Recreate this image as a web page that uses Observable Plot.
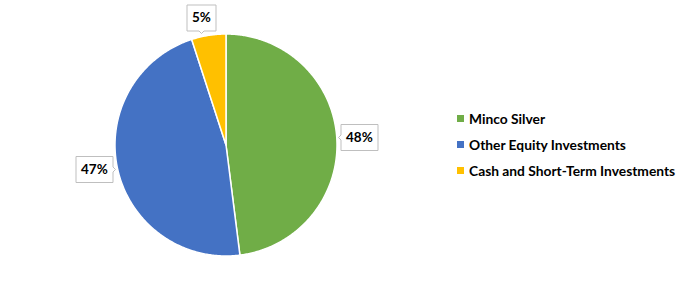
<!DOCTYPE html>
<html><head><meta charset="utf-8">
<script src="https://cdn.jsdelivr.net/npm/d3@7"></script>
<script src="https://cdn.jsdelivr.net/npm/@observablehq/plot@0.6"></script>
<style>
body{margin:0;background:#fff;font-family:Lato,sans-serif}
#wrap{position:relative;width:689px;height:289px;overflow:hidden}
#legend{position:absolute;left:457px;top:105px;font-family:Lato,sans-serif;font-weight:700;font-size:13.8px;color:#000}
#legend .row{display:flex;align-items:center;height:26px;white-space:nowrap}
#legend .sw{width:7px;height:7px;margin-right:5px}
g[aria-label="tip"], g[aria-label="tip"] path{filter:none !important}
</style></head><body><div id="wrap"></div>
<script>
const categories = ["Minco Silver", "Other Equity Investments", "Cash and Short-Term Investments"];
const values = [48, 47, 5];
const labels = ["48%", "47%", "5%"];
const colors = ["#70AD47", "#4472C4", "#FFC000"];
const anchors = ["left", "right", "bottom"];

const data = categories.map((c, i) => ({name: c, value: values[i], label: labels[i], anchor: anchors[i]}));
const arcs = d3.pie().sort(null).value(d => d.value)(data);
const pts = [];
arcs.forEach(a => {
  pts.push({name: a.data.name, x: 0, y: 0});
  const n = Math.max(2, Math.ceil((a.endAngle - a.startAngle) / 0.01));
  for (let k = 0; k <= n; k++) {
    const t = a.startAngle + (a.endAngle - a.startAngle) * k / n;
    pts.push({name: a.data.name, x: Math.sin(t), y: Math.cos(t)});
  }
});
const tips = arcs.map(a => {
  const m = (a.startAngle + a.endAngle) / 2;
  return {...a.data, x: 1.02 * Math.sin(m), y: 1.02 * Math.cos(m)};
});

const chart = Plot.plot({
  width: 689, height: 289, margin: 0,
  x: {domain: [-1, 1], range: [114.5, 336.5], axis: null},
  y: {domain: [-1, 1], range: [255.5, 33.5], axis: null},
  color: {domain: categories, range: colors},
  style: {fontFamily: "Lato, sans-serif", background: "white", color: "#000"},
  marks: [
    Plot.line(pts, {x: "x", y: "y", z: "name", fill: "name", stroke: "white", strokeWidth: 1.5, curve: "linear-closed"}),
    ...anchors.map(an => Plot.tip(tips.filter(d => d.anchor === an), {
      x: "x", y: "y", title: "label", anchor: an,
      dx: an === "bottom" ? -7 : 0,
      fill: "white", stroke: "#bfbfbf", fontSize: 13.5, fontWeight: "bold",
      textPadding: 5, pointerSize: 5
    }))
  ]
});
const wrap = document.getElementById("wrap");
wrap.appendChild(chart);

const legend = document.createElement("div");
legend.id = "legend";
categories.forEach((c, i) => {
  const row = document.createElement("div");
  row.className = "row";
  const sw = document.createElement("span");
  sw.className = "sw";
  sw.style.background = colors[i];
  const tx = document.createElement("span");
  tx.textContent = c;
  row.appendChild(sw); row.appendChild(tx);
  legend.appendChild(row);
});
wrap.appendChild(legend);
</script></body></html>
